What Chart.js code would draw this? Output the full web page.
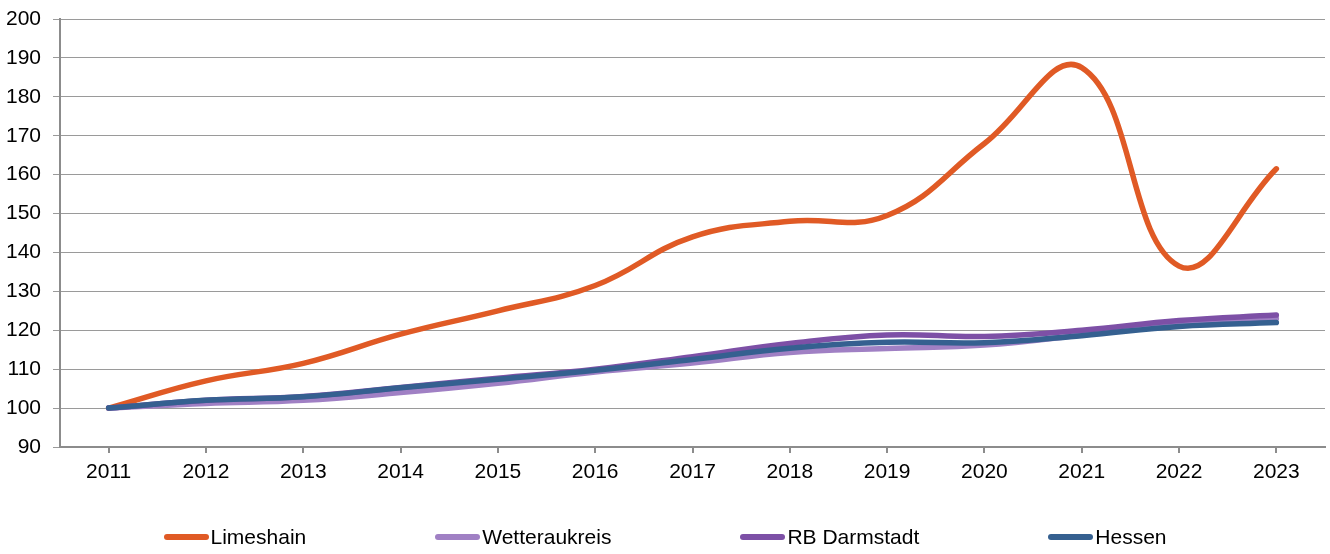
<!DOCTYPE html>
<html>
<head>
<meta charset="utf-8">
<script src="https://cdn.jsdelivr.net/npm/chart.js@4"></script>
<style>
  body { margin: 0; background: #fff; }
  #wrap { position: relative; width: 1330px; height: 554px; }
  #legend {
    position: absolute; left: 0; top: 525px; width: 1330px;
    display: flex; justify-content: center; gap: 129px;
    font-family: "Liberation Sans Narrow", "Arial Narrow", "Liberation Sans", sans-serif;
    font-size: 21px; color: #000;
  }
  .item { display: flex; align-items: center; }
  .swatch { width: 45px; height: 6px; border-radius: 3px; margin-right: 2px; }
</style>
</head>
<body>
<div id="wrap">
  <canvas id="chart" width="1330" height="554"></canvas>
  <div id="legend"></div>
</div>
<script>
const years = ['2011', '2012', '2013', '2014', '2015', '2016', '2017', '2018', '2019', '2020', '2021', '2022', '2023'];
const limeshain = [100, 107, 111.5, 119, 125, 131.5, 144, 148, 149.5, 168, 187.5, 136.5, 161.5];
const wetterau = [100, 101.2, 102, 104, 106.4, 109.3, 111.6, 114.3, 115.3, 116.2, 118.8, 121.8, 123];
const rbDarmstadt = [100, 102, 103, 105.3, 107.7, 110, 113.2, 116.6, 118.8, 118.4, 120, 122.5, 123.9];
const hessen = [100, 102, 102.9, 105.2, 107.4, 109.7, 112.5, 115.4, 116.9, 116.8, 118.6, 121, 122];

const font = { family: '"Liberation Sans Narrow", "Arial Narrow", "Liberation Sans", sans-serif', size: 21 };

const series = [
  { label: 'Limeshain', data: limeshain, color: '#e05a25', order: 3 },
  { label: 'Wetteraukreis', data: wetterau, color: '#a080c4', order: 2 },
  { label: 'RB Darmstadt', data: rbDarmstadt, color: '#7d50a6', order: 1 },
  { label: 'Hessen', data: hessen, color: '#356090', order: 0 },
];

new Chart(document.getElementById('chart'), {
  type: 'line',
  data: {
    labels: years,
    datasets: series.map(s => ({
      label: s.label,
      data: s.data,
      borderColor: s.color,
      backgroundColor: s.color,
      borderWidth: 5.5,
      borderCapStyle: 'round',
      pointRadius: 0,
      tension: 0.42,
      order: s.order
    }))
  },
  options: {
    responsive: false,
    animation: false,
    layout: { padding: { top: 19, right: 5, left: 0, bottom: 0 } },
    plugins: { legend: { display: false }, tooltip: { enabled: false } },
    scales: {
      x: {
        offset: true,
        grid: { drawOnChartArea: false, drawTicks: true, tickLength: 6, color: '#8c8c8c', lineWidth: 2 },
        border: { color: '#8c8c8c', width: 2 },
        ticks: { font: font, color: '#000', padding: 7, maxRotation: 0 },
        afterFit: scale => { scale.height = 107; scale.paddingLeft = 0; scale.paddingRight = 0; }
      },
      y: {
        min: 90,
        max: 200,
        grid: { color: '#9a9a9a', lineWidth: 1, tickLength: 7 },
        border: { color: '#8c8c8c', width: 2 },
        ticks: { stepSize: 10, font: font, color: '#000', padding: 12 },
        afterFit: scale => { scale.width = 60; scale.paddingTop = 0; scale.paddingBottom = 0; }
      }
    }
  }
});

const legend = document.getElementById('legend');
series.forEach(s => {
  const item = document.createElement('div');
  item.className = 'item';
  const sw = document.createElement('span');
  sw.className = 'swatch';
  sw.style.background = s.color;
  const txt = document.createElement('span');
  txt.textContent = s.label;
  item.appendChild(sw);
  item.appendChild(txt);
  legend.appendChild(item);
});
</script>
</body>
</html>
